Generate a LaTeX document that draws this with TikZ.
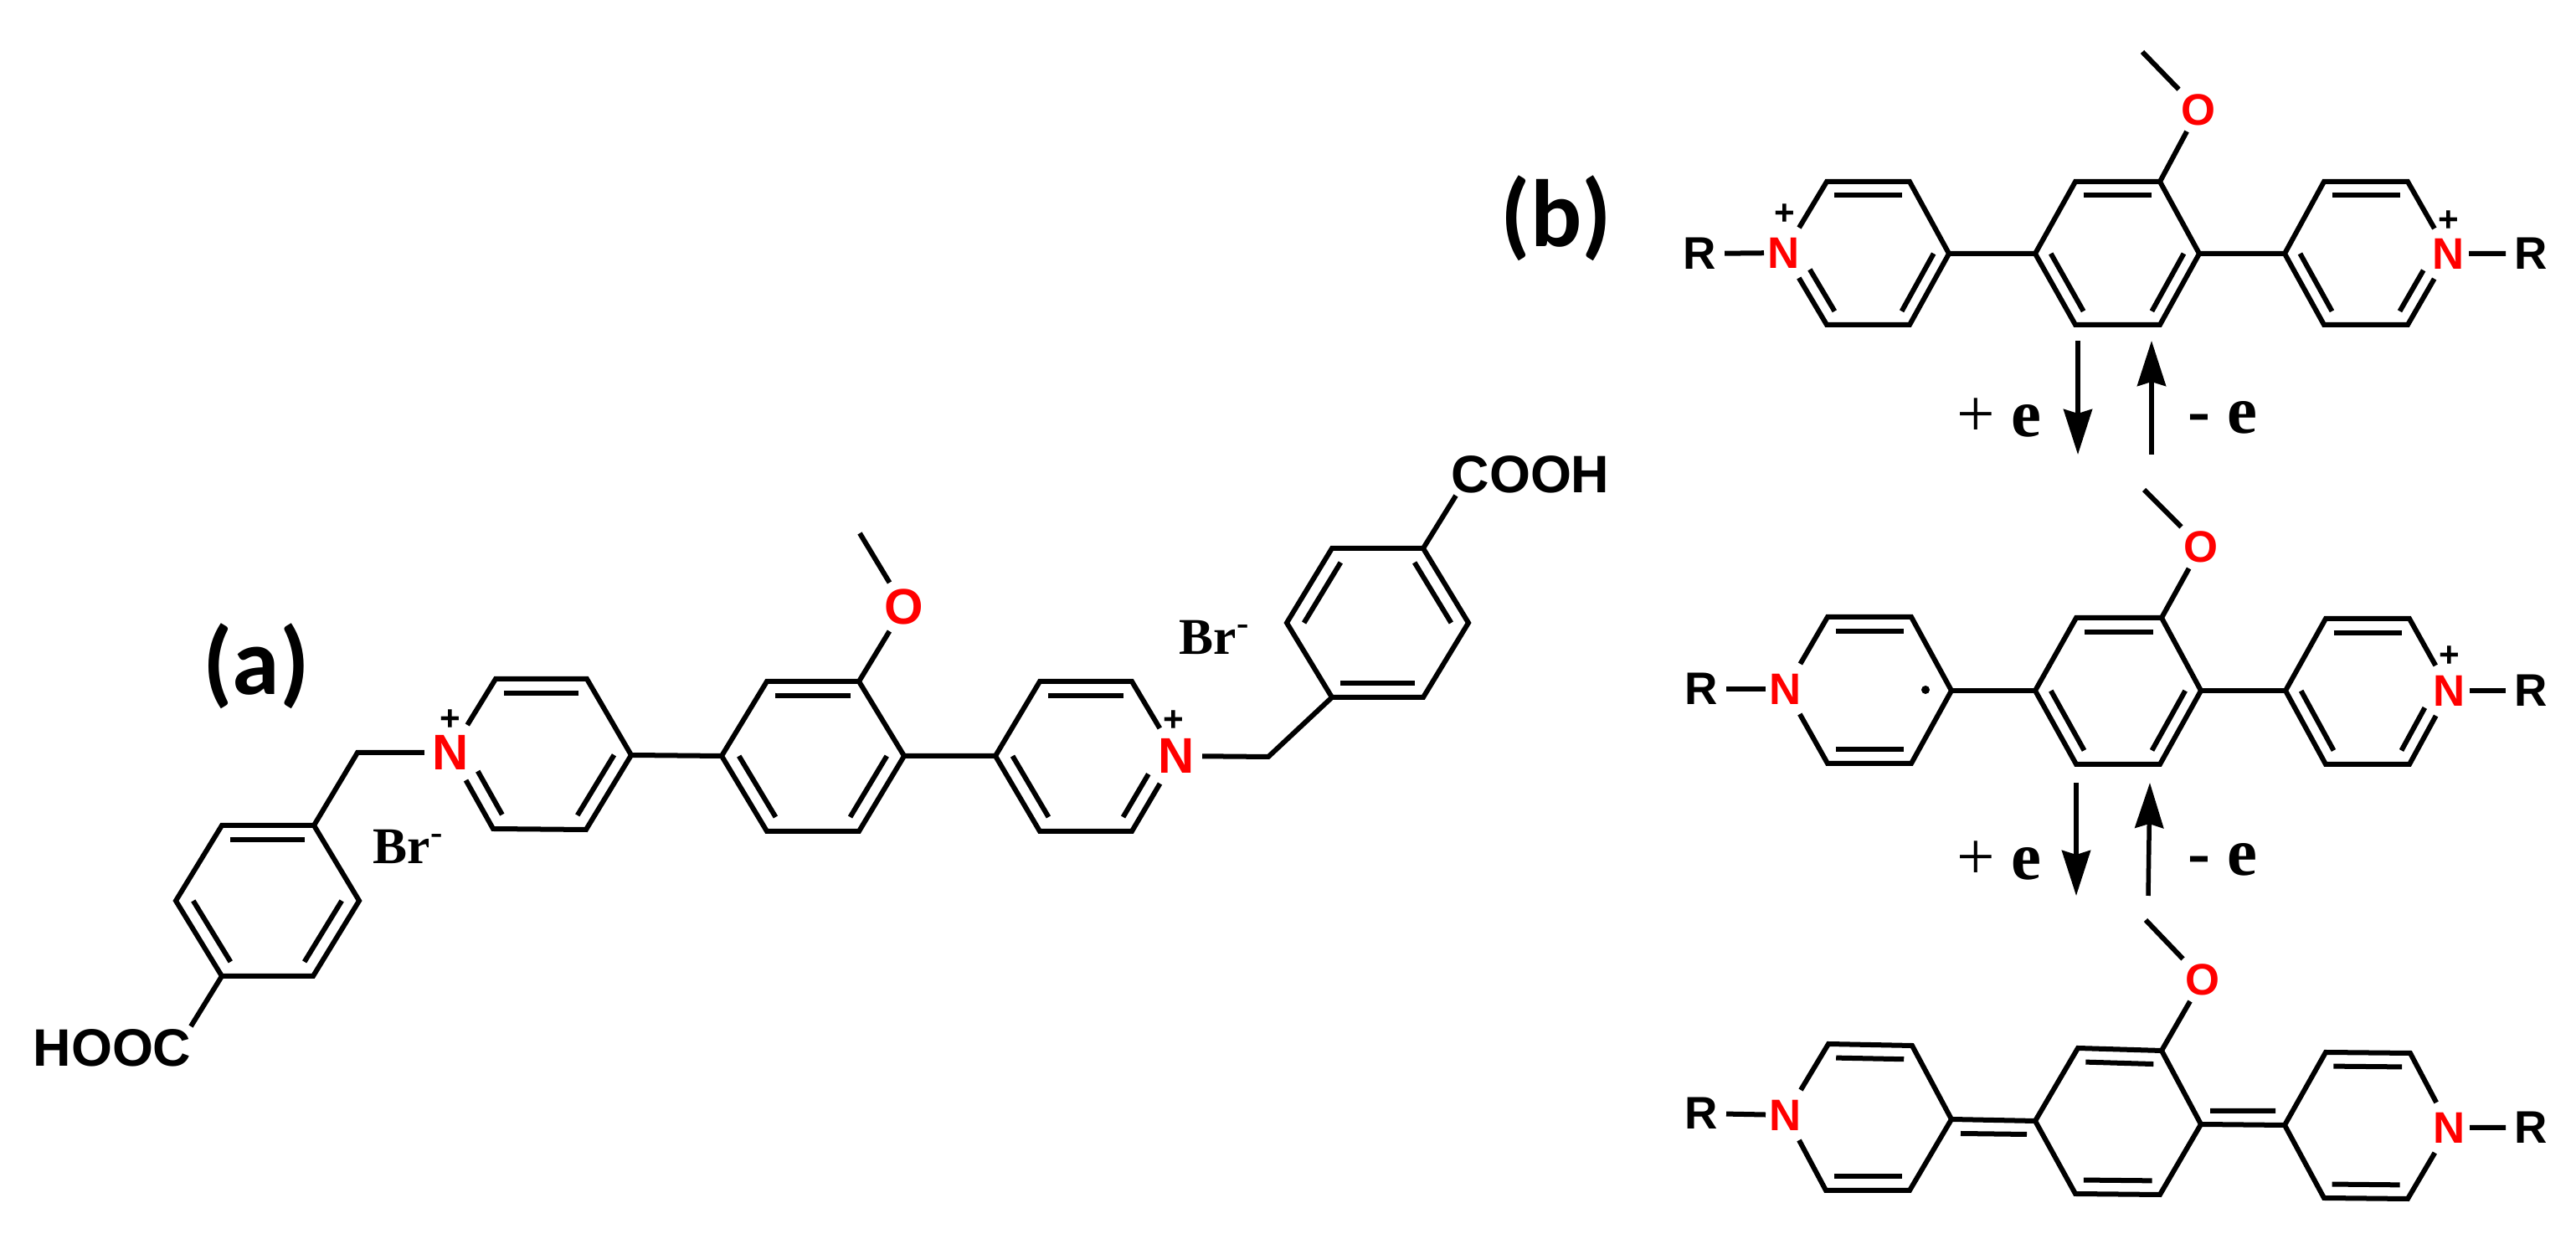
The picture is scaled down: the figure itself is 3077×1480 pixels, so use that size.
\documentclass[tikz,border=0pt]{standalone}
\usepackage{fontspec}
\usepackage{tikz}
\usetikzlibrary{calc,arrows.meta}
\newfontfamily\arialfont{Liberation Sans}
\newfontfamily\timesfont{Liberation Serif}
\newfontfamily\tagfont{Carlito}
\newcommand{\innerbond}[4][]{\draw[#1] ($(#2)!.19!(#4)$) -- ($(#3)!.19!(#4)$);}
\begin{document}
\begin{tikzpicture}[x=.01cm, y=-.01cm, line width=.06cm]
\tikzstyle{every node}=[inner sep=0pt];
\tikzstyle{atomn}=[text=red, minimum width=.56cm, minimum height=.6cm, font=\arialfont\bfseries\fontsize{17}{17}\selectfont];
\tikzstyle{atomo}=[text=red, minimum width=.4cm, minimum height=.52cm, font=\arialfont\bfseries\fontsize{17}{17}\selectfont];
\tikzstyle{atomnb}=[text=red, minimum width=.42cm, minimum height=.54cm, font=\arialfont\bfseries\fontsize{15}{15}\selectfont];
\tikzstyle{atomob}=[text=red, minimum width=.4cm, minimum height=.46cm, font=\arialfont\bfseries\fontsize{15}{15}\selectfont];
\tikzstyle{atomr}=[minimum width=.54cm, font=\arialfont\bfseries\fontsize{15.5}{15}\selectfont];
\tikzstyle{acid}=[font=\arialfont\bfseries\fontsize{17.9}{18}\selectfont];
\tikzstyle{anion}=[font=\timesfont\bfseries\fontsize{17.5}{18}\selectfont];
\tikzstyle{charge}=[font=\arialfont\bfseries\fontsize{12}{12}\selectfont];
\tikzstyle{tag}=[font=\tagfont\bfseries\fontsize{32.5}{33}\selectfont];
\tikzstyle{redoxtext}=[anchor=base west, font=\timesfont\bfseries\fontsize{23}{23}\selectfont];
\tikzstyle{radical}=[circle, fill=black, minimum size=.1cm];
\tikzstyle{redox}=[line width=.055cm, -{Stealth[length=.54cm,width=.34cm,inset=.05cm]}];
\useasboundingbox (0,0) rectangle (3077,1480);
\foreach \n/\x/\y in {
lbtl/265/986, lbtr/375/986, lbr/429/1076, lbbr/374/1166, lbbl/265/1166, lbl/210/1076,
lptl/592/811, lptr/701/811, lpr/754/902, lpbr/700/991, lpbl/589/990,
crtl/916/814, crtr/1026/814, crr/1080/903, crbr/1026/993, crbl/916/993, crl/862/903,
rptl/1242/814, rptr/1352/814, rpbr/1352/993, rpbl/1242/993, rpl/1189/903,
rbtl/1591/655, rbtr/1700/655, rbr/1754/744, rbbr/1700/833, rbbl/1591/833, rbl/1537/744,
t1tl/2182/217, t1tr/2281/217, t1r/2328/303, t1br/2281/388, t1bl/2182/388,
t2tl/2479/217, t2tr/2580/217, t2r/2627/303, t2br/2580/388, t2bl/2479/388, t2l/2431/303,
t3tl/2776/217, t3tr/2876/217, t3br/2876/388, t3bl/2776/388, t3l/2729/303,
m1tl/2183/737, m1tr/2283/737, m1r/2331/825, m1br/2283/912, m1bl/2183/912,
m2tl/2480/738, m2tr/2582/738, m2r/2629/825, m2br/2580/913, m2bl/2480/913, m2l/2431/825,
m3tl/2778/739, m3tr/2878/739, m3br/2878/913, m3bl/2778/913, m3l/2730/825,
u1tl/2184/1247, u1tr/2284/1249, u1r/2331/1337, u1br/2281/1422, u1bl/2181/1422,
u2tl/2482/1252, u2tr/2582/1255, u2r/2629/1343, u2br/2580/1427, u2bl/2479/1426, u2l/2431/1339,
u3tl/2778/1257, u3tr/2879/1258, u3br/2876/1432, u3bl/2776/1431, u3l/2729/1344,
lch/427/899, rch/1515/904, hooc/228/1226, cooh/1739/592,
crme/1027/637, t2me/2559/62, m2me/2561/585, u2me/2563/1099,
dn1a/2482/407, dn1b/2482/543, up1a/2570/543, up1b/2570/407,
dn2a/2480/935, dn2b/2480/1070, up2a/2566/1070, up2b/2568/935}
{
\coordinate (\n) at (\x,\y);
}
\foreach \r in {lb,lp,cr,rp,rb,t1,t2,t3,m1,m2,m3,u1,u2,u3}
{
\coordinate (\r c) at ($(\r tl)!.5!(\r br)$);
}
\path (538,899) node[atomn] (lpn) {N} (1405,903) node[atomn] (rpn) {N}
(1080,725) node[atomo] (cro) {O}
(2131,302) node[atomnb] (t1n) {N} (2925,303) node[atomnb] (t3n) {N}
(2133,823) node[atomnb] (m1n) {N} (2926,825) node[atomnb] (m3n) {N}
(2133,1332) node[atomnb] (u1n) {N} (2926,1347) node[atomnb] (u3n) {N}
(2626,131) node[atomob] (t2o) {O} (2629,653) node[atomob] (m2o) {O} (2631,1170) node[atomob] (u2o) {O}
(2030,303) node[atomr] (t1x) {R} (3023,303) node[atomr] (t3x) {R}
(2032,823) node[atomr] (m1x) {R} (3023,825) node[atomr] (m3x) {R}
(2032,1330) node[atomr] (u1x) {R} (3023,1347) node[atomr] (u3x) {R};
\path (134,1252) node[acid] (hoocl) {HOOC} (1828,567) node[acid] (coohl) {COOH}
(488,1011) node[anion] (brl) {Br\textsuperscript{-}} (1451,761) node[anion] (brr) {Br\textsuperscript{-}}
(538,860) node[charge] (lpq) {+} (1402,861) node[charge] (rpq) {+}
(2132,256) node[charge] (t1q) {+} (2925,264) node[charge] (t3q) {+} (2926,784) node[charge] (m3q) {+}
(306,796) node[tag] (taga) {(a)} (1859,261) node[tag] (tagb) {(b)}
(2334,522) node[redoxtext] (addt) {{\mdseries +} e} (2610,518) node[redoxtext] (subt) {- e}
(2334,1051) node[redoxtext] (addb) {{\mdseries +} e} (2610,1046) node[redoxtext] (subb) {- e}
(2300,824) node[radical] (rad) {};
\draw (lbtl) -- (lbtr) -- (lbr) -- (lbbr) -- (lbbl) -- (lbl) -- cycle;
\draw (lpn) -- (lptl) -- (lptr) -- (lpr) -- (lpbr) -- (lpbl) -- (lpn);
\draw (crtl) -- (crtr) -- (crr) -- (crbr) -- (crbl) -- (crl) -- cycle;
\draw (rpn) -- (rptr) -- (rptl) -- (rpl) -- (rpbl) -- (rpbr) -- (rpn);
\draw (rbtl) -- (rbtr) -- (rbr) -- (rbbr) -- (rbbl) -- (rbl) -- cycle;
\draw (hooc) -- (lbbl) (lbtr) -- (lch) -- (lpn) (lpr) -- (crl) (crr) -- (rpl) (rpn) -- (rch) -- (rbbl) (rbtr) -- (cooh);
\draw (crme) -- (cro) -- (crtr);
\foreach \r in {t,m,u}
{
\draw (\r 1n) -- (\r 1tl) -- (\r 1tr) -- (\r 1r) -- (\r 1br) -- (\r 1bl) -- (\r 1n);
\draw (\r 2tl) -- (\r 2tr) -- (\r 2r) -- (\r 2br) -- (\r 2bl) -- (\r 2l) -- cycle;
\draw (\r 3n) -- (\r 3tr) -- (\r 3tl) -- (\r 3l) -- (\r 3bl) -- (\r 3br) -- (\r 3n);
\draw (\r 1x) -- (\r 1n) (\r 1r) -- (\r 2l) (\r 2r) -- (\r 3l) (\r 3n) -- (\r 3x);
\draw (\r 2me) -- (\r 2o) -- (\r 2tr);
\innerbond{\r 1tl}{\r 1tr}{\r 1c}
\innerbond{\r 2tl}{\r 2tr}{\r 2c}
\innerbond{\r 3tl}{\r 3tr}{\r 3c}
}
\foreach \r in {lb,lp,cr,rp}
{
\innerbond{\r tl}{\r tr}{\r c}
}
\foreach \r in {lb,cr,rp,t2,m2,m3,t3}
{
\innerbond{\r l}{\r bl}{\r c}
}
\foreach \r in {lb,lp,cr,t1,t2,m2}
{
\innerbond{\r r}{\r br}{\r c}
}
\innerbond{rbtl}{rbl}{rbc}
\innerbond{rbtr}{rbr}{rbc}
\innerbond{rbbl}{rbbr}{rbc}
\innerbond[shorten <=.25cm]{lpn}{lpbl}{lpc}
\innerbond[shorten <=.25cm]{rpn}{rpbr}{rpc}
\innerbond[shorten <=.23cm]{t1n}{t1bl}{t1c}
\innerbond[shorten <=.23cm]{t3n}{t3br}{t3c}
\innerbond[shorten <=.23cm]{m3n}{m3br}{m3c}
\innerbond{m1bl}{m1br}{m1c}
\innerbond{u1bl}{u1br}{u1c}
\innerbond{u2bl}{u2br}{u2c}
\innerbond{u3bl}{u3br}{u3c}
\draw ($(u1r)+(11,17)$) -- ($(u2l)+(-10,16)$) ($(u2r)+(11,-16)$) -- ($(u3l)+(-11,-17)$);
\draw[redox] (dn1a) -- (dn1b);
\draw[redox] (up1a) -- (up1b);
\draw[redox] (dn2a) -- (dn2b);
\draw[redox] (up2a) -- (up2b);
\end{tikzpicture}
\end{document}
